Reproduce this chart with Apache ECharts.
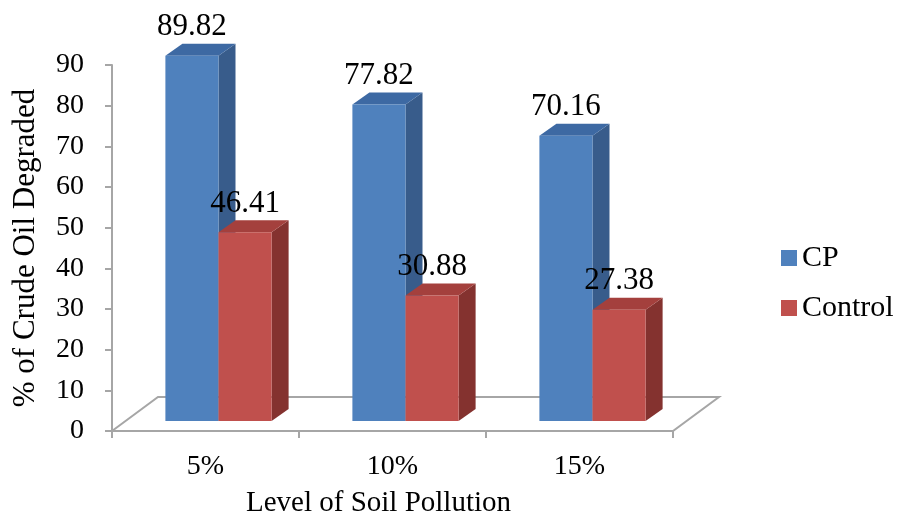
<!DOCTYPE html>
<html>
<head>
<meta charset="utf-8">
<script src="https://cdn.jsdelivr.net/npm/echarts@6/dist/echarts.min.js"></script>
<style>
  html, body { margin: 0; padding: 0; background: #fff; }
  #chart { width: 898px; height: 527px; }
</style>
</head>
<body>
<div id="chart"></div>
<script>
var categories = ['5%', '10%', '15%'];
var cpValues = [89.82, 77.82, 70.16];
var controlValues = [46.41, 30.88, 27.38];

(function () {
  var chart = echarts.init(document.getElementById('chart'));
  var FONT = "'Liberation Serif', 'Times New Roman', serif";
  var axisGray = '#a6a6a6';

  // 3d look: bars sit a bit behind the floor front edge
  var OFF_X = 13, OFF_Y = -10;   // shift of bar front plane
  var DX = 17, DY = -12;         // bar depth
  var FLOOR_DX = 46, FLOOR_DY = -34;

  function toData(arr) {
    return arr.map(function (v, i) { return [i, v]; });
  }

  function bar3d(side, front, top, right) {
    return function (params, api) {
      var c = api.coord([api.value(0), api.value(1)]);
      var base = api.coord([api.value(0), 0]);
      var bw = api.size([1, 0])[0] * 0.284;
      var x0 = c[0] + OFF_X + (side < 0 ? -bw : 0);
      var x1 = x0 + bw;
      var yt = c[1] + OFF_Y;
      var yb = base[1] + OFF_Y;
      return {
        type: 'group',
        children: [
          { type: 'polygon', shape: { points: [[x1, yt], [x1 + DX, yt + DY], [x1 + DX, yb + DY], [x1, yb]] },
            style: { fill: right } },
          { type: 'polygon', shape: { points: [[x0, yt], [x0 + DX, yt + DY], [x1 + DX, yt + DY], [x1, yt]] },
            style: { fill: top } },
          { type: 'rect', shape: { x: x0, y: yt, width: bw, height: yb - yt },
            style: { fill: front } },
          { type: 'text', z2: 10,
            style: { text: api.value(1).toFixed(2), x: (x0 + x1) / 2, y: yt + DY - 1,
              align: 'center', verticalAlign: 'bottom', fill: '#000',
              font: '31px ' + FONT } }
        ]
      };
    };
  }

  function floor(params, api) {
    var bw = api.size([1, 0])[0];
    var l = api.coord([0, 0]);
    var r = api.coord([categories.length - 1, 0]);
    var x0 = l[0] - bw / 2, x1 = r[0] + bw / 2, y = l[1];
    return {
      type: 'polygon',
      shape: { points: [[x0, y], [x0 + FLOOR_DX, y + FLOOR_DY], [x1 + FLOOR_DX, y + FLOOR_DY], [x1, y]] },
      style: { fill: '#fff', stroke: axisGray, lineWidth: 2 }
    };
  }

  var option = {
    animation: false,
    textStyle: { fontFamily: FONT },
    grid: { left: 112, right: 225, top: 65, bottom: 96 },
    legend: {
      orient: 'vertical',
      left: 776,
      top: 238,
      icon: 'rect',
      itemWidth: 16,
      itemHeight: 16,
      itemGap: 20,
      data: ['CP', 'Control'],
      textStyle: { fontFamily: FONT, fontSize: 30, color: '#000' }
    },
    xAxis: {
      type: 'category',
      data: categories,
      name: 'Level of Soil Pollution',
      nameLocation: 'middle',
      nameGap: 58,
      nameTextStyle: { fontFamily: FONT, fontSize: 29, color: '#000', padding: [0, 28, 0, 0] },
      axisLine: { lineStyle: { color: axisGray, width: 2 } },
      axisTick: { show: true, length: 7, lineStyle: { color: axisGray, width: 2 } },
      axisLabel: { fontFamily: FONT, fontSize: 28, color: '#000', margin: 22 },
      splitLine: { show: false }
    },
    yAxis: {
      type: 'value',
      min: 0,
      max: 90,
      interval: 10,
      name: '% of Crude Oil Degraded',
      nameLocation: 'middle',
      nameRotate: 90,
      nameGap: 71,
      nameTextStyle: { fontFamily: FONT, fontSize: 31, color: '#000' },
      axisLine: { show: true, lineStyle: { color: axisGray, width: 2 } },
      axisTick: { show: true, length: 7, lineStyle: { color: axisGray, width: 2 } },
      axisLabel: { fontFamily: FONT, fontSize: 28, color: '#000', margin: 28 },
      splitLine: { show: false }
    },
    series: [
      {
        name: 'floor',
        type: 'custom',
        renderItem: floor,
        data: [[0, 0]],
        z: 1,
        silent: true
      },
      {
        name: 'CP',
        type: 'custom',
        renderItem: bar3d(-1, '#4f81bd', '#3d69a3', '#385c8b'),
        itemStyle: { color: '#4f81bd' },
        encode: { x: 0, y: 1 },
        data: toData(cpValues),
        z: 2
      },
      {
        name: 'Control',
        type: 'custom',
        renderItem: bar3d(1, '#c0504d', '#a4403d', '#84322f'),
        itemStyle: { color: '#c0504d' },
        encode: { x: 0, y: 1 },
        data: toData(controlValues),
        z: 3
      }
    ]
  };

  chart.setOption(option);
  window.addEventListener('resize', function () { chart.resize(); });
})();
</script>
</body>
</html>
